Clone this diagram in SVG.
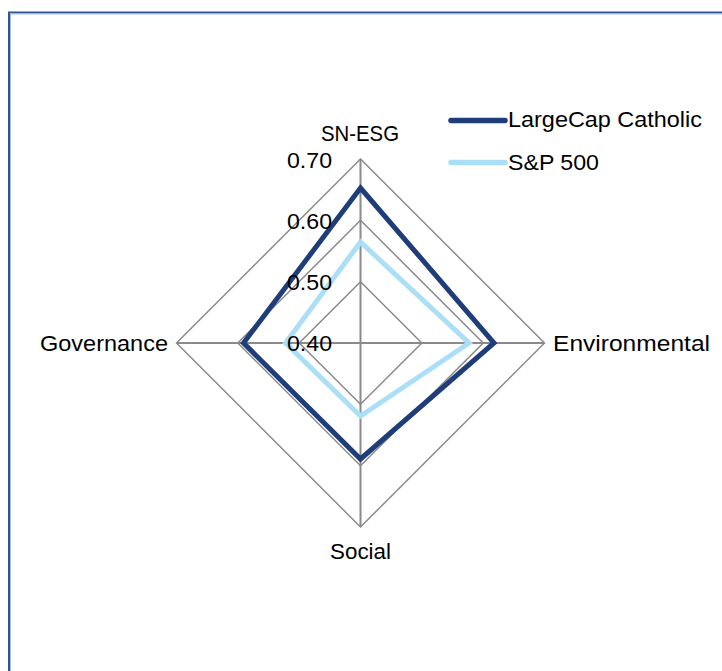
<svg xmlns="http://www.w3.org/2000/svg" width="722" height="671" viewBox="0 0 722 671">
<style>
.grid{fill:none;stroke:#8a8a8a;stroke-width:1.5}
.axis{stroke:#8a8a8a;stroke-width:2}
.s1{fill:none;stroke:#1f3e79;stroke-width:5;stroke-linejoin:miter}
.s2{fill:none;stroke:#abdff8;stroke-width:5;stroke-linejoin:miter}
text{font-family:"Liberation Sans",Arial,sans-serif;font-size:22.5px;fill:#000}
</style>
<rect width="722" height="671" fill="#fff"/>
<rect x="9" y="12.5" width="730" height="680" fill="none" stroke="#2f5597" stroke-width="2"/>
<rect x="10.5" y="14" width="730" height="680" fill="none" stroke="#a9bde0" stroke-width="1"/>
<g id="grid">
<polygon class="grid" points="360.5,281.7 421.8,343 360.5,404.3 299.2,343"/>
<polygon class="grid" points="360.5,220.3 483.2,343 360.5,465.7 237.8,343"/>
<polygon class="grid" points="360.5,159 544.5,343 360.5,527 176.5,343"/>
<line class="axis" x1="360.5" y1="159" x2="360.5" y2="527"/>
<line class="axis" x1="176.5" y1="343" x2="544.5" y2="343"/>
</g>
<g id="connectors">
<polygon id="sp500" class="s2" points="360.5,242 469,343 360.5,416 285.5,343"/>
<polygon id="largecap" class="s1" points="360.5,188 494,343 360.5,459 243.5,343"/>
</g>
<g id="axis-labels">
<g id="sn-esg"><text x="321" y="141" textLength="78" lengthAdjust="spacingAndGlyphs">SN-ESG</text></g>
<g id="environmental"><text x="553" y="351" textLength="157" lengthAdjust="spacingAndGlyphs">Environmental</text></g>
<g id="social"><text x="330" y="559" textLength="61" lengthAdjust="spacingAndGlyphs">Social</text></g>
<g id="governance"><text x="40" y="351" textLength="128" lengthAdjust="spacingAndGlyphs">Governance</text></g>
</g>
<g id="values">
<text x="287" y="168" textLength="45" lengthAdjust="spacingAndGlyphs">0.70</text>
<text x="287" y="229" textLength="45" lengthAdjust="spacingAndGlyphs">0.60</text>
<text x="287" y="290" textLength="45" lengthAdjust="spacingAndGlyphs">0.50</text>
<text x="287" y="351" textLength="45" lengthAdjust="spacingAndGlyphs">0.40</text>
</g>
<g id="legend">
<line x1="451" y1="120.5" x2="505" y2="120.5" stroke="#1f3e79" stroke-width="5.5" stroke-linecap="round"/>
<text x="508" y="127" textLength="194" lengthAdjust="spacingAndGlyphs">LargeCap Catholic</text>
<line x1="451" y1="162.5" x2="505" y2="162.5" stroke="#abdff8" stroke-width="5.5" stroke-linecap="round"/>
<text x="508" y="170" textLength="91" lengthAdjust="spacingAndGlyphs">S&amp;P 500</text>
</g>
</svg>
